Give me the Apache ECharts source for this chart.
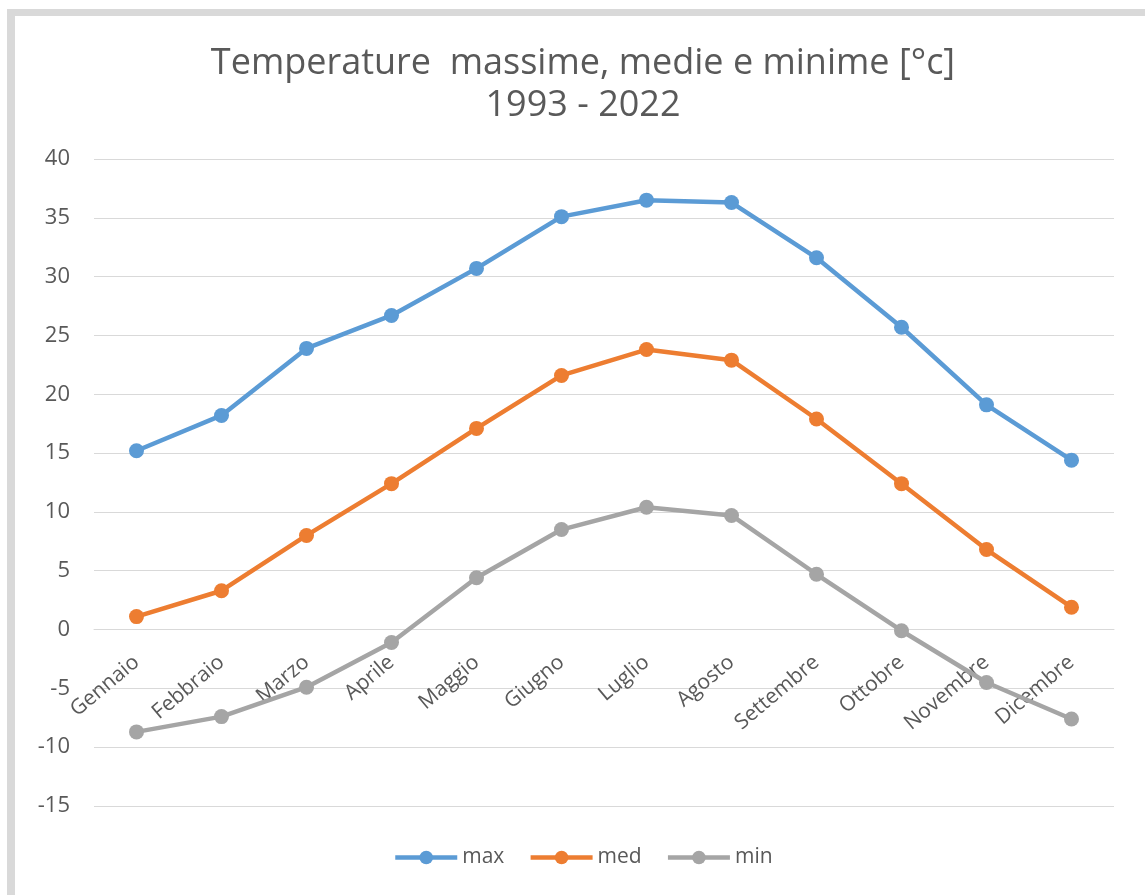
<!DOCTYPE html>
<html>
<head>
<meta charset="utf-8">
<script src="https://cdn.jsdelivr.net/npm/echarts@6/dist/echarts.min.js"></script>
<style>
  html, body { margin: 0; padding: 0; background: #ffffff; }
  #frame {
    position: absolute; left: 7px; top: 9px; width: 1138px; height: 886px;
    border-top: 7px solid #d9d9d9; border-left: 8px solid #d9d9d9; box-sizing: border-box;
  }
  #chart { position: absolute; left: 0; top: 0; width: 1145px; height: 895px; }
</style>
</head>
<body>
<div id="frame"></div>
<div id="chart"></div>
<script>
// Mesi dell'anno
const mesi = ['Gennaio', 'Febbraio', 'Marzo', 'Aprile', 'Maggio', 'Giugno',
              'Luglio', 'Agosto', 'Settembre', 'Ottobre', 'Novembre', 'Dicembre'];
// Temperature massime, medie e minime [°C], 1993 - 2022
const tMax = [15.2, 18.2, 23.9, 26.7, 30.7, 35.1, 36.5, 36.3, 31.6, 25.7, 19.1, 14.4];
const tMed = [1.1, 3.3, 8.0, 12.4, 17.1, 21.6, 23.8, 22.9, 17.9, 12.4, 6.8, 1.9];
const tMin = [-8.7, -7.4, -4.9, -1.1, 4.4, 8.5, 10.4, 9.7, 4.7, -0.1, -4.5, -7.6];

const FONT = '"Open Sans", sans-serif';
const TEXT = '#595959';

// Area del grafico
const GRID = { left: 94, right: 31, top: 159, bottom: 89 };
const Y_MIN = -15, Y_MAX = 40;
const plotH = 895 - GRID.top - GRID.bottom;
// l'asse delle categorie incrocia l'asse dei valori in 0
const zeroOffset = -(plotH * (0 - Y_MIN) / (Y_MAX - Y_MIN));

const chart = echarts.init(document.getElementById('chart'), null, { renderer: 'canvas' });

function serie(name, data, color) {
  return {
    name: name,
    type: 'line',
    data: data,
    symbol: 'circle',
    symbolSize: 15,
    lineStyle: { width: 4.5, color: color },
    itemStyle: { color: color },
    emphasis: { disabled: true }
  };
}

chart.setOption({
  animation: false,
  backgroundColor: 'transparent',
  textStyle: { fontFamily: FONT },
  title: {
    text: 'Temperature  massime, medie e minime [°c]\n1993 - 2022',
    left: 578,
    textAlign: 'center',
    top: 38,
    textStyle: {
      fontFamily: FONT, fontSize: 36, fontWeight: 'normal', color: TEXT, lineHeight: 42
    }
  },
  legend: {
    top: 847,
    left: 393,
    padding: 0,
    itemWidth: 62,
    itemHeight: 17,
    itemGap: 24,
    lineStyle: { width: 4.5 },
    textStyle: { fontFamily: FONT, fontSize: 21, color: TEXT },
    data: ['max', 'med', 'min']
  },
  grid: GRID,
  xAxis: {
    type: 'category',
    data: mesi,
    boundaryGap: true,
    offset: zeroOffset,
    axisLine: { show: true, onZero: false, lineStyle: { color: '#d9d9d9', width: 1 } },
    axisTick: { show: false },
    axisLabel: {
      rotate: 40, margin: 30, fontFamily: FONT, fontSize: 21, color: TEXT, interval: 0
    }
  },
  yAxis: {
    type: 'value',
    min: Y_MIN,
    max: Y_MAX,
    interval: 5,
    axisLine: { show: false },
    axisTick: { show: false },
    axisLabel: { margin: 24, fontFamily: FONT, fontSize: 22, color: TEXT },
    splitLine: { lineStyle: { color: '#d9d9d9', width: 1 } }
  },
  series: [
    serie('max', tMax, '#5b9bd5'),
    serie('med', tMed, '#ed7d31'),
    serie('min', tMin, '#a5a5a5')
  ]
});
</script>
</body>
</html>
